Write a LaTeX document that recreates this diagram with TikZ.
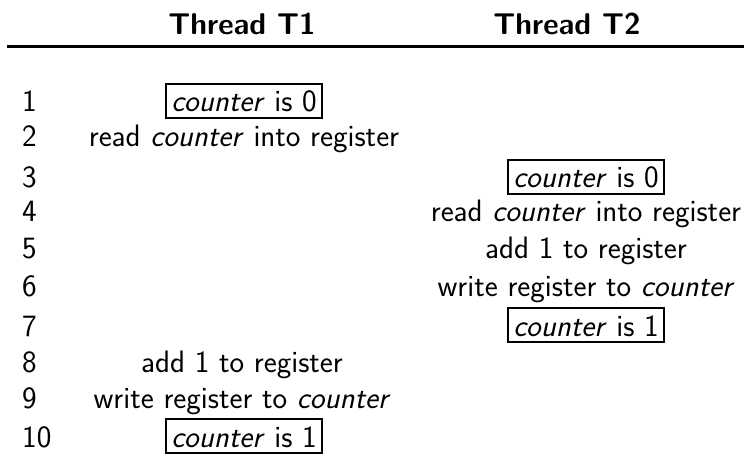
\documentclass[tikz,border=0pt]{standalone}
\begin{document}
\begin{tikzpicture}[x=1pt,y=-1pt,
  every node/.style={font=\fontsize{31}{37}\selectfont\sffamily, inner sep=0pt, text=black},
  num/.style={anchor=base west},
  cell/.style={anchor=base},
  hdr/.style={anchor=base, font=\fontsize{30}{36}\selectfont\sffamily\bfseries},
  valbox/.style={anchor=base, draw=black, line width=2pt, inner xsep=5pt, inner ysep=6pt, text height=22pt, text depth=0pt}]
\useasboundingbox (0,0) rectangle (744,454);
% header
\node[hdr] (h1) at (242,35) {Thread T1};
\node[hdr] (h2) at (567,35) {Thread T2};
\coordinate (rl) at (7,46.5);
\coordinate (rr) at (744,46.5);
\draw[line width=3pt, black] (rl) -- (rr);
% row numbers
\node[num] (n1) at (22,112) {1};
\node[num] (n2) at (22,147) {2};
\node[num] (n3) at (22,188) {3};
\node[num] (n4) at (22,222) {4};
\node[num] (n5) at (22,259) {5};
\node[num] (n6) at (22,296) {6};
\node[num] (n7) at (22,336) {7};
\node[num] (n8) at (22,372) {8};
\node[num] (n9) at (22,408) {9};
\node[num] (n10) at (22,447) {10};
% thread T1
\node[valbox] (a1) at (244,112) {\textit{counter} is 0};
\node[cell] (a2) at (244,147) {read \textit{counter} into register};
\node[cell] (a8) at (242,372) {add 1 to register};
\node[cell] (a9) at (242,408) {write register to \textit{counter}};
\node[valbox] (a10) at (244,447) {\textit{counter} is 1};
% thread T2
\node[valbox] (b3) at (586,188) {\textit{counter} is 0};
\node[cell] (b4) at (586,222) {read \textit{counter} into register};
\node[cell] (b5) at (586,259) {add 1 to register};
\node[cell] (b6) at (586,296) {write register to \textit{counter}};
\node[valbox] (b7) at (586,336) {\textit{counter} is 1};
\end{tikzpicture}
\end{document}
